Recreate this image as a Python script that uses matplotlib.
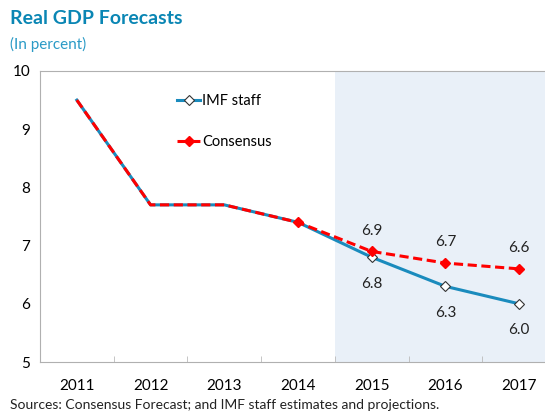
import matplotlib
matplotlib.use("Agg")
import matplotlib.pyplot as plt

years = ["2011", "2012", "2013", "2014", "2015", "2016", "2017"]
imf_staff = [9.5, 7.7, 7.7, 7.4, 6.8, 6.3, 6.0]
consensus = [9.5, 7.7, 7.7, 7.4, 6.9, 6.7, 6.6]
imf_labels = ["6.8", "6.3", "6.0"]
cons_labels = ["6.9", "6.7", "6.6"]
yticks = [5, 6, 7, 8, 9, 10]

plt.rcParams['font.family'] = ['Lato', 'DejaVu Sans']

W, H = 545, 411
fig = plt.figure(figsize=(W / 100, H / 100), dpi=100)
ax = fig.add_axes([40 / W, 1 - 362 / H, 1 - 40 / W, (362 - 71) / H])

x = list(range(len(years)))
ax.axvspan(3.5, 7, color="#e9f0f8", zorder=0, lw=0)

blue = "#1a8bbd"
red = "#ff0000"
ax.plot(x, imf_staff, color=blue, lw=2.2, marker="D", ms=5.5, mfc="white",
        mec="#333333", mew=0.8, markevery=[4, 5, 6], label="IMF staff", zorder=3)
ax.plot(x, consensus, color=red, lw=2.2, ls=(0, (3, 1.5)), marker="D", ms=5.5,
        mfc=red, mec=red, markevery=[3, 4, 5, 6], label="Consensus", zorder=4)

for i, lab in enumerate(imf_labels):
    xi = 4 + i
    ax.annotate(lab, (xi, imf_staff[xi]), xytext=(0, -14), textcoords="offset points",
                ha="center", va="top", fontsize=11, color="#222222")
for i, lab in enumerate(cons_labels):
    xi = 4 + i
    ax.annotate(lab, (xi, consensus[xi]), xytext=(0, 10), textcoords="offset points",
                ha="center", va="bottom", fontsize=11, color="#222222")

ax.set_xlim(-0.5, -0.5 + (W - 40) / 73.7)
ax.set_ylim(5, 10)
ax.set_yticks(yticks)
ax.set_yticklabels([str(v) for v in yticks], fontsize=11)
ax.tick_params(axis="y", length=0, pad=7)
ax.set_xticks(x)
ax.set_xticklabels(years, fontsize=11)
ax.tick_params(axis="x", length=0, pad=12)
ax.set_xticks([i + 0.5 for i in range(len(years) - 1)], minor=True)
ax.tick_params(axis="x", which="minor", direction="in", length=4, color="#bbbbbb")
for s in ["left", "bottom", "top", "right"]:
    ax.spines[s].set_color("#b0b0b0")
    ax.spines[s].set_linewidth(0.8)
ax.spines["right"].set_visible(False)

leg = ax.legend(loc="upper left", bbox_to_anchor=(0.245, 0.965), frameon=False,
                fontsize=10.5, handlelength=1.6, handletextpad=0.15, labelspacing=1.85)

fig.text(10 / W, 1 - 18 / H, "Real GDP Forecasts", fontsize=14, fontweight="bold",
         color="#0a86b4", va="center", ha="left")
fig.text(10 / W, 1 - 44 / H, "(In percent)", fontsize=11, color="#2a9ac6",
         va="center", ha="left")
fig.text(10 / W, 1 - 405 / H, "Sources: Consensus Forecast; and IMF staff estimates and projections.",
         fontsize=10, color="#222222", va="center", ha="left")

fig.savefig("out.png", dpi=100)
